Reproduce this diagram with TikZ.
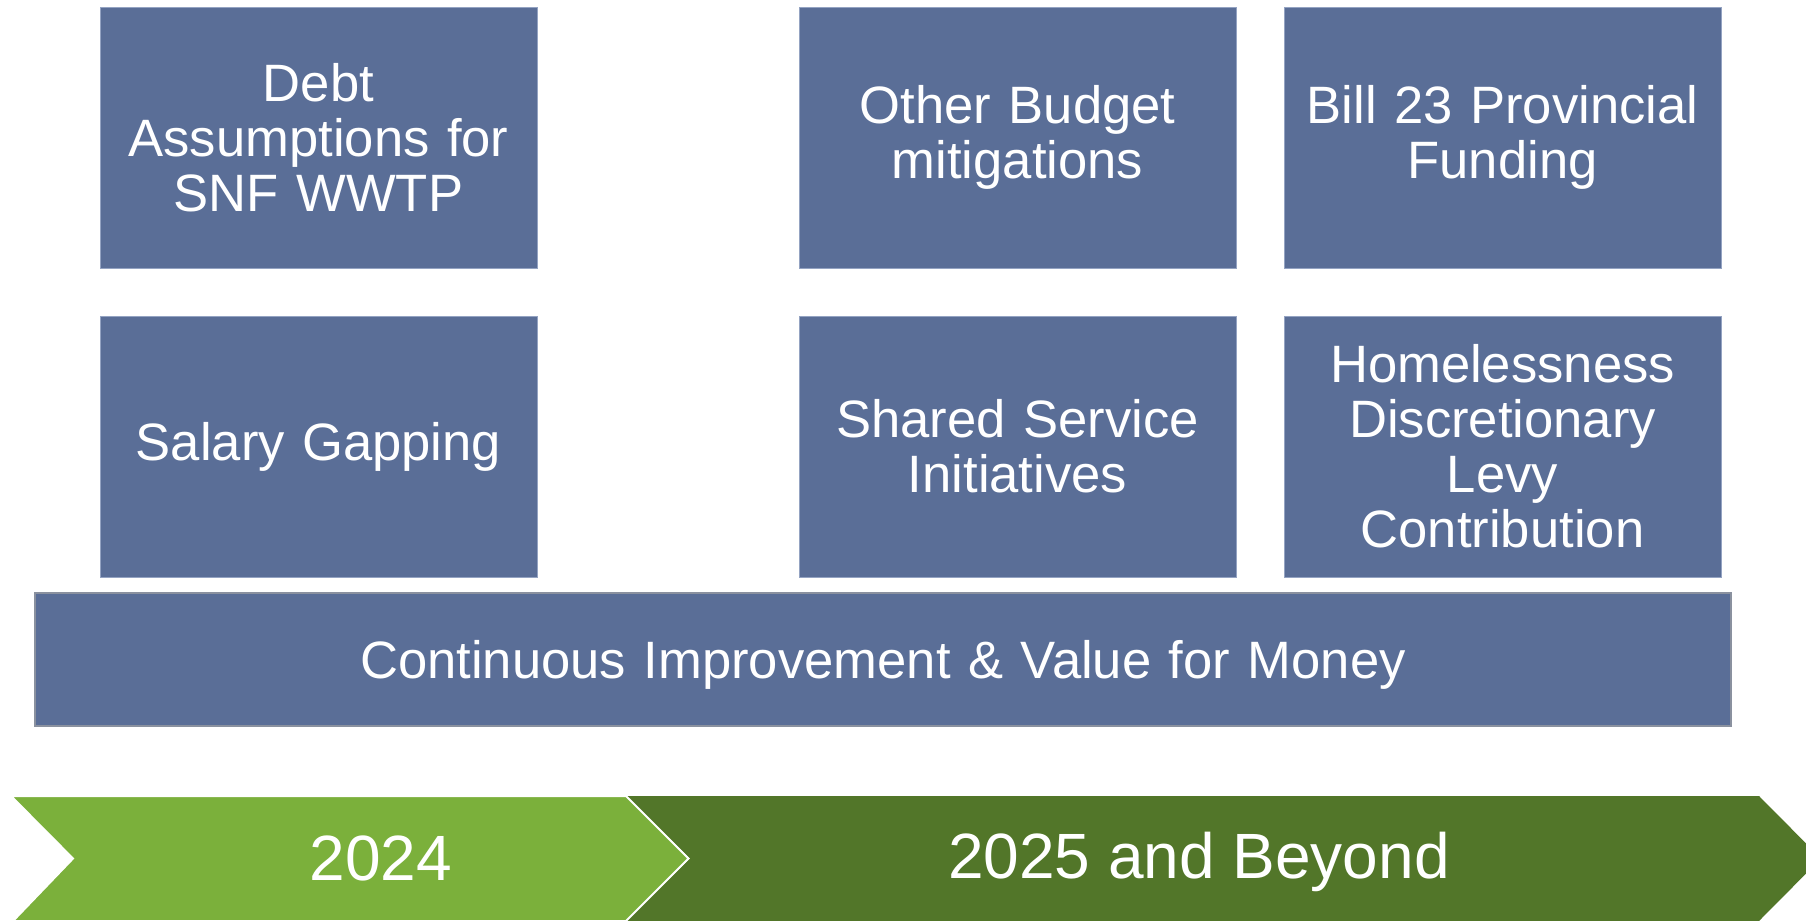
\documentclass[tikz,border=0pt]{standalone}
\usepackage{fontspec}
\setmainfont{Liberation Sans}
\definecolor{boxblue}{HTML}{5A6E97}
\definecolor{boxedge}{HTML}{94A3C2}
\definecolor{baredge}{HTML}{8A919F}
\definecolor{lightgreen}{HTML}{7BB03B}
\definecolor{darkgreen}{HTML}{527629}
\tikzset{
	task/.style={rectangle, fill=boxblue, draw=boxedge, line width=0.5pt, text=white,
		minimum width=218.5pt, minimum height=130.5pt, align=center, text width=200pt,
		font=\fontsize{26.3}{27.5}\selectfont},
	yearlabel/.style={text=white, font=\fontsize{32}{34}\selectfont}
}
\begin{document}
\begin{tikzpicture}[x=0.5pt, y=-0.5pt]
	\useasboundingbox (0,0) rectangle (1806,921);

	\node[task] (debt) at (318.5,137.5) {Debt\\Assumptions for\\SNF WWTP};%top row
	\node[task] (budget) at (1017.5,137.5) {Other Budget\\mitigations};
	\node[task] (bill) at (1502.5,137.5) {Bill 23 Provincial\\Funding};

	\node[task] (salary) at (318.5,446.5) {Salary Gapping};%second row
	\node[task] (shared) at (1017.5,446.5) {Shared Service\\Initiatives};
	\node[task] (levy) at (1502.5,446.5) {Homelessness\\Discretionary\\Levy\\Contribution};

	\node[task, draw=baredge, line width=1pt, minimum width=848pt, minimum height=66.5pt, text width=800pt,
		text height=24.5pt, text depth=5.5pt]
		(improve) at (883,659.5) {Continuous Improvement \& Value for Money};%bottom bar

	\fill[darkgreen] (626,796) -- (1759,796) -- (1821,858.5) -- (1759,921) -- (626,921) -- (690,858.5) -- cycle;%later years
	\filldraw[fill=lightgreen, draw=white, line width=1pt] (11,796) -- (626,796) -- (688.5,858.5) -- (626,921) -- (13,921) -- (73,858.5) -- cycle;%first year

	\node[yearlabel] (now) at (381,858.5) {2024};
	\node[yearlabel] (later) at (1199,862) {2025 and Beyond};
\end{tikzpicture}
\end{document}
